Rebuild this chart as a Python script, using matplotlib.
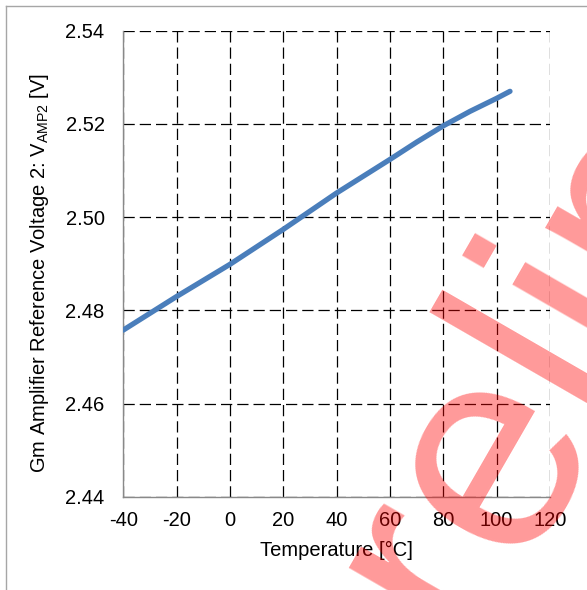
import matplotlib
matplotlib.use('Agg')
import matplotlib.pyplot as plt
from matplotlib.lines import Line2D

plt.rcParams['font.family'] = ['Liberation Sans', 'DejaVu Sans']
plt.rcParams['mathtext.fontset'] = 'custom'
plt.rcParams['mathtext.rm'] = 'Liberation Sans'
plt.rcParams['mathtext.it'] = 'Liberation Sans:italic'

# reference voltage vs. temperature
temperature = [-40, -20, 0, 20, 40, 60, 70, 80, 90, 100, 105]
v_amp2 = [2.4758, 2.4830, 2.4899, 2.4974, 2.5052, 2.5124, 2.5161, 2.5196, 2.5227, 2.5255, 2.5270]

x_ticks = [-40, -20, 0, 20, 40, 60, 80, 100, 120]
y_ticks = [2.44, 2.46, 2.48, 2.50, 2.52, 2.54]

W, H = 587, 590
fig = plt.figure(figsize=(W / 100, H / 100), dpi=100)
ax = fig.add_axes([123.3 / W, 1 - 497 / H, (550 - 123.3) / W, (497 - 30.7) / H])

ax.plot(temperature, v_amp2, color='#4A7EBB', linewidth=3.8, solid_capstyle='round',
        solid_joinstyle='round', zorder=3)

ax.set_xlim(-40, 120)
ax.set_ylim(2.44, 2.54)
ax.set_xticks(x_ticks)
ax.set_yticks(y_ticks)
ax.set_xticklabels([str(t) for t in x_ticks])
ax.set_yticklabels(['%.2f' % v for v in y_ticks])
ax.tick_params(length=0, labelsize=14.5, colors='black')
ax.tick_params(axis='y', pad=13.5)
ax.tick_params(axis='x', pad=10)

ax.set_axisbelow(True)
ax.grid(True, color='black', linestyle=(0, (9, 4)), linewidth=0.9)
for side in ['top', 'right']:
    ax.spines[side].set_visible(False)
for side in ['left', 'bottom']:
    ax.spines[side].set_color('#898989')
    ax.spines[side].set_linewidth(1.0)

ax.set_xlabel('Temperature [°C]', fontsize=14.5)
ax.set_ylabel(r'Gm Amplifier Reference Voltage 2: V$_{\mathrm{AMP2}}$ [V]', fontsize=14.5)
ax.xaxis.set_label_coords(0.5, -0.094)
ax.yaxis.set_label_coords(-0.169, 0.48)

# chart area border
fig.add_artist(Line2D([5.5 / W, 5.5 / W], [1 - 5.5 / H, 0], color='#a6a6a6', linewidth=1.0))
fig.add_artist(Line2D([5.5 / W, 1], [1 - 5.5 / H, 1 - 5.5 / H], color='#a6a6a6', linewidth=1.0))

# watermark
fig.text(0.6195, -0.374, 'Preliminary', rotation=60, rotation_mode='anchor',
         ha='left', va='baseline', fontsize=212, color='red', alpha=0.4, zorder=10)

fig.savefig('out.png', dpi=100)
